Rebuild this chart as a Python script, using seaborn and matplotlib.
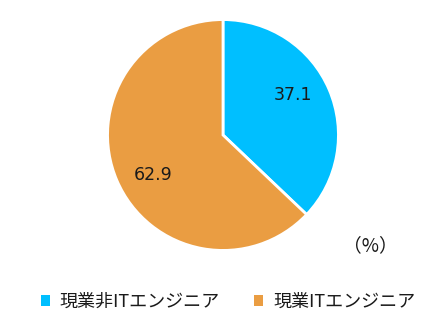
import matplotlib
matplotlib.use("Agg")
import numpy as np
import matplotlib.pyplot as plt
from matplotlib.patches import Patch
import seaborn as sns

categories = ["現業非ITエンジニア", "現業ITエンジニア"]
values = [37.1, 62.9]
colors = ["#00BFFF", "#EA9D42"]

sns.set_theme(style="white")
plt.rcParams["font.family"] = ["Noto Sans CJK JP", "DejaVu Sans"]

fig = plt.figure(figsize=(4.23, 3.24), dpi=100)
ax = fig.add_axes([107 / 423, (324 - 251) / 324, 232 / 423, 232 / 324])
palette = sns.color_palette(colors)
wedges, texts, autotexts = ax.pie(
    values, colors=palette, startangle=90, counterclock=False,
    autopct=lambda p: f"{p:.1f}", pctdistance=0.70,
    wedgeprops=dict(edgecolor="white", linewidth=2),
    textprops=dict(fontsize=12.5, color="#1a1a1a", family="DejaVu Sans"), radius=1.0,
)
# shift label angles slightly (counter-clockwise) to match reference placement
rot = np.deg2rad(6.5)
for t in autotexts:
    x, y = t.get_position()
    t.set_position((x * np.cos(rot) - y * np.sin(rot), x * np.sin(rot) + y * np.cos(rot)))
ax.set_aspect("equal")
ax.set_xlim(-1.005, 1.005)
ax.set_ylim(-1.005, 1.005)

fig.text(370 / 423, 1 - 246 / 324, "（%）", ha="center", va="center", fontsize=13.5, color="#1a1a1a")

handles = [Patch(facecolor=c, edgecolor="none") for c in palette]
leg = fig.legend(handles, categories, loc="center", bbox_to_anchor=(228 / 423, 1 - 302 / 324),
                 ncol=2, frameon=False, fontsize=13, handlelength=0.5, handleheight=0.5,
                 handletextpad=0.55, columnspacing=1.9, borderpad=0)
for t in leg.get_texts():
    t.set_color("#1a1a1a")

fig.savefig("out.png", dpi=100)
